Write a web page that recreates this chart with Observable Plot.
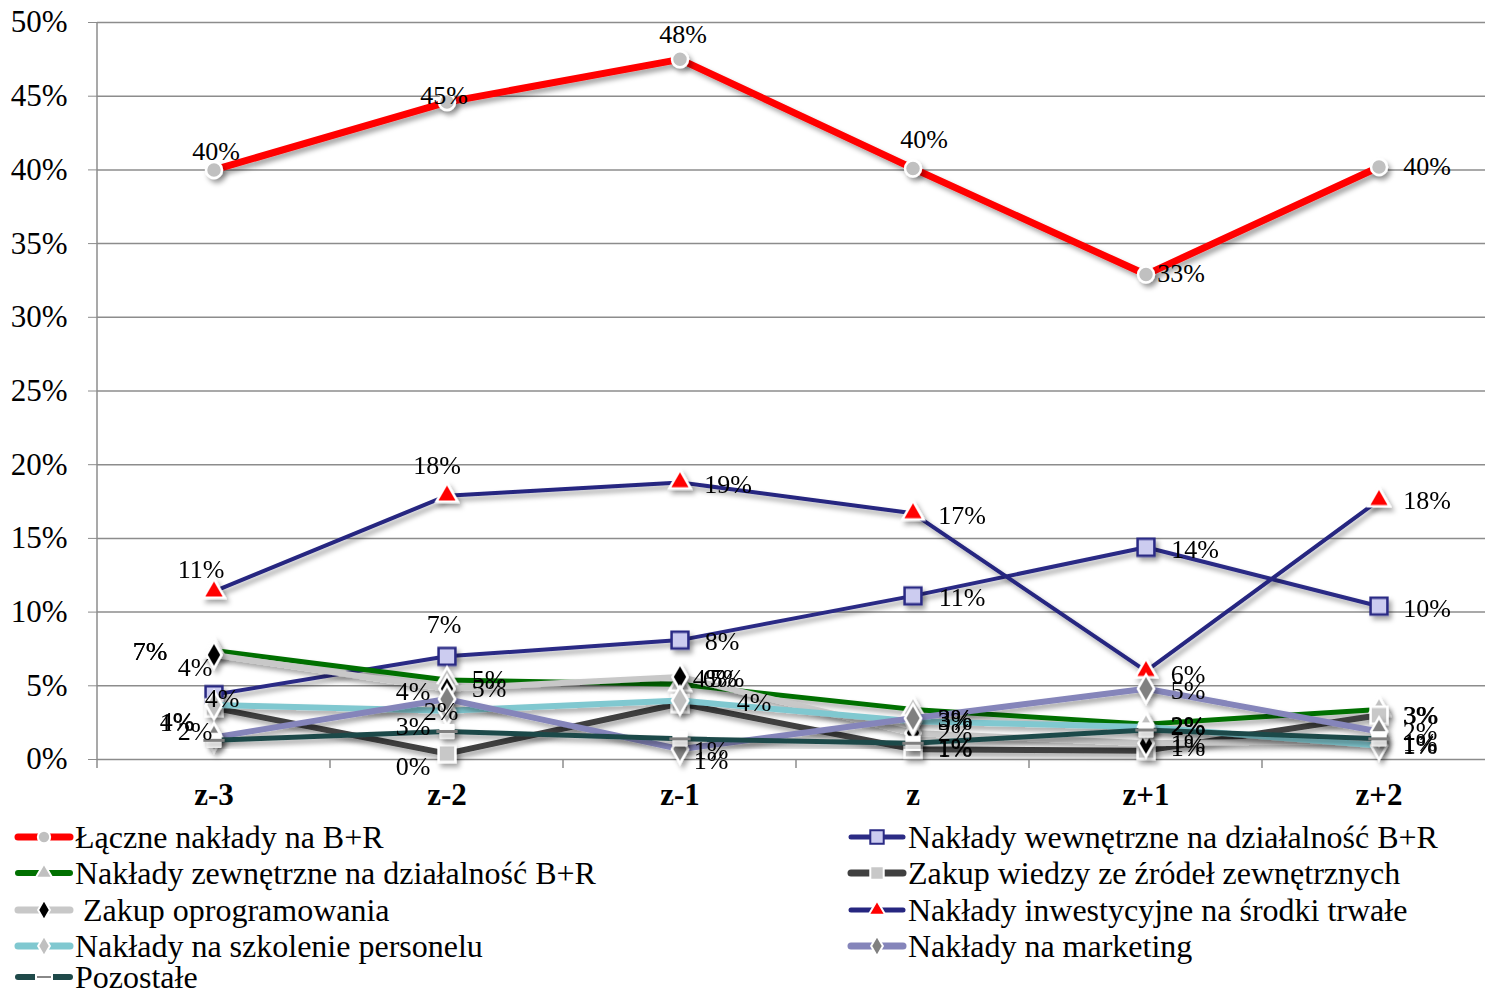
<!DOCTYPE html>
<html><head><meta charset="utf-8">
<script src="https://cdn.jsdelivr.net/npm/d3@7"></script>
<script src="https://cdn.jsdelivr.net/npm/@observablehq/plot@0.6"></script>
<style>
body{margin:0;background:#fff;font-family:"Liberation Serif","Times New Roman",serif;}
#wrap{position:relative;width:1485px;height:996px;overflow:hidden;background:#fff;}
#chart{position:absolute;left:0;top:0;}
.leg{position:absolute;height:30px;display:flex;align-items:center;font-size:32px;color:#000;white-space:pre;line-height:30px;}
.leg svg{flex:none;}
.leg span{display:inline-block;height:30px;line-height:30px;}
</style></head><body><div id="wrap"><div id="chart"></div><div id="legend"></div></div>
<script>
// ---- data ----
const categories = ["z-3", "z-2", "z-1", "z", "z+1", "z+2"];
const seriesNames = [
  "Łączne nakłady na B+R",
  "Nakłady wewnętrzne na działalność B+R",
  "Nakłady zewnętrzne na działalność B+R",
  "Zakup wiedzy ze źródeł zewnętrznych",
  " Zakup oprogramowania",
  "Nakłady inwestycyjne na środki trwałe",
  "Nakłady na szkolenie personelu",
  "Nakłady na marketing",
  "Pozostałe"
];
const valLaczne   = [40.0, 44.6, 47.5, 40.1, 32.9, 40.2];
const valWewn     = [4.4, 7.0, 8.1, 11.1, 14.4, 10.4];
const valZewn     = [7.4, 5.4, 5.1, 3.4, 2.4, 3.4];
const valWiedza   = [3.5, 0.4, 3.8, 0.7, 0.6, 3.0];
const valOprog    = [7.1, 4.8, 5.6, 1.8, 1.1, 1.3];
const valInwest   = [11.4, 17.9, 18.8, 16.7, 6.0, 17.6];
const valSzkol    = [3.7, 3.3, 4.0, 2.6, 2.2, 0.95];
const valMarket   = [1.5, 4.1, 0.7, 2.8, 4.8, 1.9];
const valPozost   = [1.3, 1.9, 1.4, 1.1, 2.0, 1.4];
const yTickValues = [0, 5, 10, 15, 20, 25, 30, 35, 40, 45, 50];

const seriesValues = [valLaczne, valWewn, valZewn, valWiedza, valOprog, valInwest, valSzkol, valMarket, valPozost];

// ---- styles ----
const FONT = '"Liberation Serif","Times New Roman",serif';
const dash = {draw(ctx, size){ const w = Math.sqrt(size) * 0.75; ctx.moveTo(-w, 0); ctx.lineTo(w, 0); }};
const styles = [
  {color: "#FF0000", width: 7, symbol: "circle",   r: 8,  mfill: "#C0C0C0", mstroke: "#FFFFFF"},
  {color: "#2B2B85", width: 4, symbol: "square",   r: 9.5,mfill: "#CCCCF0", mstroke: "#2B2B85"},
  {color: "#007000", width: 5, symbol: "triangle", r: 8,  mfill: "#C0C0C0", mstroke: "#FFFFFF"},
  {color: "#404040", width: 6, symbol: "square",   r: 9.5,mfill: "#C8C8C8", mstroke: "#FFFFFF"},
  {color: "#C8C8C8", width: 6, symbol: "diamond",  r: 8,  mfill: "#000000", mstroke: "#FFFFFF"},
  {color: "#262680", width: 4, symbol: "triangle", r: 8,  mfill: "#FF0000", mstroke: "#FFFFFF"},
  {color: "#80C8D0", width: 6, symbol: "diamond",  r: 8.5,mfill: "#C0C0C0", mstroke: "#FFFFFF"},
  {color: "#8585BA", width: 6, symbol: "diamond",  r: 8.5,mfill: "#808080", mstroke: "#FFFFFF"},
  {color: "#1F4A4A", width: 5, symbol: "dash",     r: 8,  mfill: "none",    mstroke: "#808080"}
];
// label offsets (dx, dy) relative to the point, text centred
const R = [42, 2];
const labelOffsets = [
  [[2,-18],[-3,-6],[3,-25],[11,-29],[35,-1],[48,0]],
  [[8,4],[-3,-32],[42,2],[49,2],[49,2],[48,2]],
  [[-64,1],[42,0],[47,-6],[42,9],[42,2],[42,6]],
  [[-19,-40],[-34,13],[74,-1],[42,-1],[42,-3],[41,0]],
  [[-64,-3],[42,0],[40,2],[42,0],[42,0],[41,4]],
  [[-13,-22],[-10,-30],[48,2],[49,2],[42,4],[48,1]],
  [[-37,17],[-34,16],[30,-22],[42,0],[42,0],[41,0]],
  [[-19,-6],[-34,-7],[31,11],[42,0],[42,2],[41,0]],
  [[-37,-18],[-6,-20],[31,12],[42,4],[42,-3],[41,4]]
];

// ---- build table ----
const rows = [];
seriesValues.forEach((vals, s) => vals.forEach((v, i) => rows.push({s, name: seriesNames[s], cat: categories[i], i, v: v / 100})));

const marks = [];
marks.push(Plot.ruleY(yTickValues.map(d => d / 100), {stroke: "#8c8c8c", strokeWidth: 1.5}));
// axis line + between-category ticks through the x/y scales
marks.push((index, scales) => {
  const g = d3.create("svg:g");
  const x = scales.x, y = scales.y;
  const y0 = y(0), yTop = y(0.5);
  g.append("line").attr("x1", x(categories[0])).attr("x2", x(categories[0])).attr("y1", yTop).attr("y2", y0 + 9)
    .attr("stroke", "#8c8c8c").attr("stroke-width", 1.5);
  for (let i = 1; i < categories.length; i++) {
    const px = x(categories[i]);
    g.append("line").attr("x1", px).attr("x2", px).attr("y1", y0).attr("y2", y0 + 9)
      .attr("stroke", "#8c8c8c").attr("stroke-width", 1.5);
  }
  return g.node();
});
marks.push(Plot.axisY({ticks: yTickValues.map(d => d / 100), tickSize: 9, tickPadding: 21,
  tickFormat: d => Math.round(d * 100) + "%", fontSize: 31, fontFamily: FONT, stroke: "#8c8c8c", fill: "#000"}));
marks.push(Plot.axisX({tickSize: 0, tickPadding: 23, fontSize: 31, fontWeight: "bold", fontFamily: FONT, fill: "#000"}));

seriesValues.forEach((vals, s) => {
  const st = styles[s];
  const data = rows.filter(d => d.s === s);
  marks.push(Plot.line(data, {x: "cat", y: "v", stroke: st.color, strokeWidth: st.width, strokeLinejoin: "round", strokeLinecap: "round"}));
  if (st.symbol === "dash") {
    marks.push(Plot.dot(data, {x: "cat", y: "v", symbol: "square", r: 8, fill: "#FFFFFF", stroke: "#FFFFFF", strokeWidth: 1}));
    marks.push(Plot.dot(data, {x: "cat", y: "v", symbol: dash, r: 8, fill: "none", stroke: "#808080", strokeWidth: 3}));
  } else {
    marks.push(Plot.dot(data, {x: "cat", y: "v", symbol: st.symbol, r: st.r, fill: st.mfill, stroke: st.mstroke, strokeWidth: 2.5}));
  }
});
seriesValues.forEach((vals, s) => {
  rows.filter(d => d.s === s).forEach(d => {
    const [dx, dy] = labelOffsets[s][d.i] || R;
    marks.push(Plot.text([d], {x: "cat", y: "v", text: e => Math.round(e.v * 100) + "%", dx, dy,
      fontSize: 26, fontFamily: FONT, fill: "#000", textAnchor: "middle"}));
  });
});

const plot = Plot.plot({
  width: 1485, height: 815,
  marginLeft: 97, marginRight: 0, marginTop: 22, marginBottom: 56,
  style: {background: "#fff", fontFamily: FONT, overflow: "visible"},
  x: {type: "band", domain: categories, range: [97, 1495], padding: 0, label: null},
  y: {domain: [0, 0.5], label: null},
  marks
});
// drop shadows
const ns = "http://www.w3.org/2000/svg";
const defs = document.createElementNS(ns, "defs");
defs.innerHTML = '<filter id="sh" x="-20%" y="-20%" width="140%" height="160%"><feDropShadow dx="3" dy="4" stdDeviation="2.5" flood-color="#000" flood-opacity="0.35"/></filter>';
plot.insertBefore(defs, plot.firstChild);
plot.querySelectorAll('g[aria-label="line"], g[aria-label="dot"]').forEach(g => g.setAttribute("filter", "url(#sh)"));
document.getElementById("chart").appendChild(plot);

// ---- legend ----
const legendOrder = [[0,1],[2,3],[4,5],[6,7],[8,null]];
const rowCenters = [837, 873, 910, 946, 977];
const legendEl = document.getElementById("legend");
legendOrder.forEach((pair, r) => {
  pair.forEach((s, c) => {
    if (s === null) return;
    const st = styles[s];
    const div = document.createElement("div");
    div.className = "leg";
    div.style.left = (c === 0 ? 13 : 846) + "px";
    div.style.top = (rowCenters[r] - 15) + "px";
    const svg = d3.create("svg").attr("width", 62).attr("height", 24);
    svg.append("line").attr("x1", 5).attr("x2", 57).attr("y1", 12).attr("y2", 12)
      .attr("stroke", st.color).attr("stroke-width", Math.min(st.width + 1, 7)).attr("stroke-linecap", "round");
    const cx = 31;
    if (st.symbol === "dash") {
      svg.append("rect").attr("x", cx - 9).attr("y", 5).attr("width", 18).attr("height", 14).attr("fill", "#fff");
      svg.append("line").attr("x1", cx - 7).attr("x2", cx + 7).attr("y1", 12).attr("y2", 12).attr("stroke", "#606060").attr("stroke-width", 1.5);
    } else {
      const typ = {circle: d3.symbolCircle, square: d3.symbolSquare, triangle: d3.symbolTriangle, diamond: d3.symbolDiamond}[st.symbol];
      const size = st.symbol === "square" ? 180 : 120;
      svg.append("path").attr("d", d3.symbol(typ, size)()).attr("transform", `translate(${cx},12)`)
        .attr("fill", st.mfill).attr("stroke", st.mstroke).attr("stroke-width", 2);
    }
    div.appendChild(svg.node());
    const span = document.createElement("span");
    span.textContent = seriesNames[s];
    div.appendChild(span);
    legendEl.appendChild(div);
  });
});
</script></body></html>
